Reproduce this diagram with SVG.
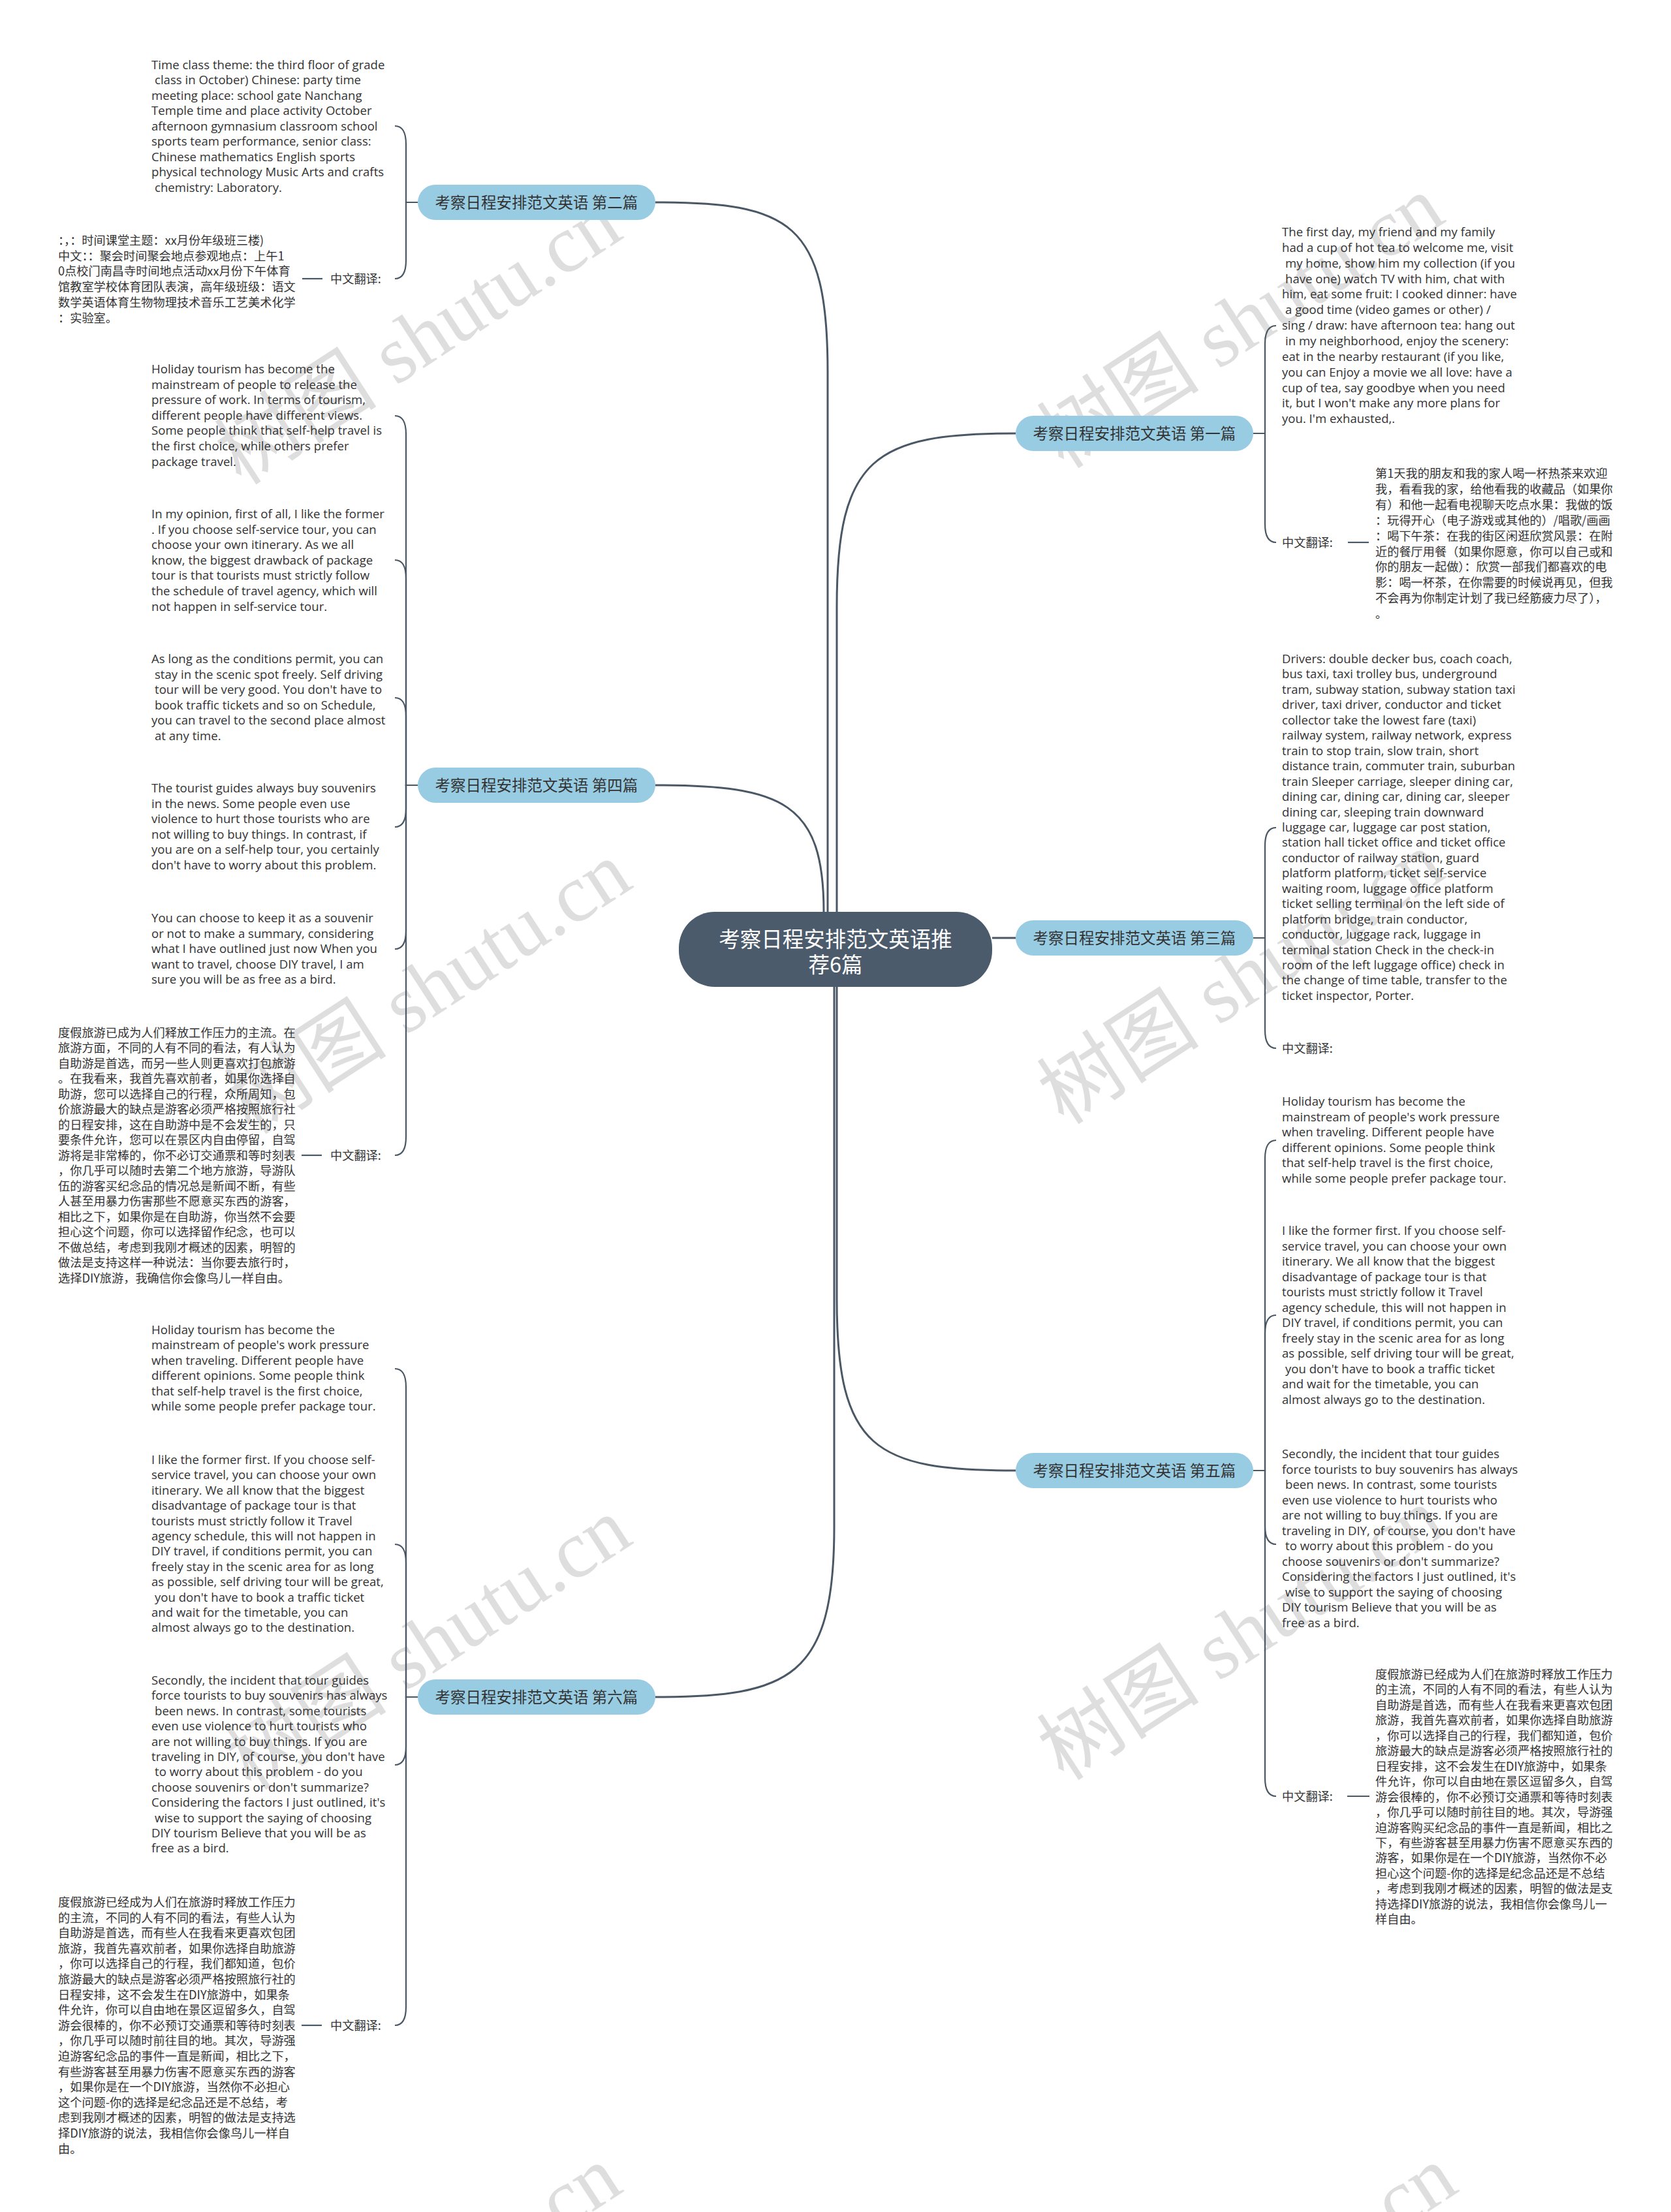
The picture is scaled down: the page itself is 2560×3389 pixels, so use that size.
<svg xmlns="http://www.w3.org/2000/svg" width="2560" height="3389" viewBox="0 0 2560 3389">
<style>
.bg{fill:#ffffff}
.wm{font-family:"Liberation Serif","Noto Sans CJK SC",serif;font-size:125px;fill:#d4d4d4;opacity:0.75}
.t{font-family:"Open Sans","Noto Sans CJK SC",sans-serif;font-size:18.6px;fill:#333333}
.c{font-family:"Noto Sans CJK SC",sans-serif;font-size:18.2px;fill:#333333}
.lab{font-family:"Noto Sans CJK SC",sans-serif;font-size:18.2px;fill:#333333}
.ln{fill:none;stroke:#4a5866;stroke-width:2.2}
.main{fill:none;stroke:#4a5866;stroke-width:3}
.l1 rect{fill:#98cce3}
.l1 text{font-family:"Noto Sans CJK SC",sans-serif;font-size:23.5px;fill:#333333;text-anchor:middle}
.root rect{fill:#4b5b6b}
.root text{font-family:"Noto Sans CJK SC",sans-serif;font-size:32.5px;fill:#ffffff;text-anchor:middle}
</style>
<rect class="bg" x="0" y="0" width="2560" height="3389"/>
<g id="watermarks">
<text class="wm" transform="translate(370,745) rotate(-33)">树图 shutu.cn</text>
<text class="wm" transform="translate(1630,720) rotate(-33)">树图 shutu.cn</text>
<text class="wm" transform="translate(385,1740) rotate(-33)">树图 shutu.cn</text>
<text class="wm" transform="translate(1630,1725) rotate(-33)">树图 shutu.cn</text>
<text class="wm" transform="translate(385,2745) rotate(-33)">树图 shutu.cn</text>
<text class="wm" transform="translate(1630,2730) rotate(-33)">树图 shutu.cn</text>
<text class="wm" transform="translate(370,3738) rotate(-33)">树图 shutu.cn</text>
<text class="wm" transform="translate(1650,3738) rotate(-33)">树图 shutu.cn</text>
</g>
<g id="connectors">
<path class="main" d="M1004 310 C1210 310 1268 340 1268 570 V1397"/>
<path class="main" d="M1004 1203 C1200 1203 1262 1230 1262 1397"/>
<path class="main" d="M1004 2600 C1210 2600 1278 2570 1278 2340 V1512"/>
<path class="main" d="M1282 1397 V930 C1282 700 1340 664 1556 664"/>
<path class="main" d="M1520 1437 H1556"/>
<path class="main" d="M1282 1512 V1990 C1282 2220 1340 2253 1556 2253"/>
<path class="ln" d="M640 310 H622 V221 Q622 193 605 193"/>
<path class="ln" d="M640 310 H622 V399 Q622 427 605 427"/>
<path class="ln" d="M494 427 H463"/>
<path class="ln" d="M640 1203 H622 V665 Q622 637 605 637"/>
<path class="ln" d="M640 1203 H622 V886 Q622 858 605 858"/>
<path class="ln" d="M640 1203 H622 V1097 Q622 1069 605 1069"/>
<path class="ln" d="M640 1203 H622 V1239 Q622 1267 605 1267"/>
<path class="ln" d="M640 1203 H622 V1426 Q622 1454 605 1454"/>
<path class="ln" d="M640 1203 H622 V1742 Q622 1770 605 1770"/>
<path class="ln" d="M493 1770 H462"/>
<path class="ln" d="M640 2600 H622 V2125 Q622 2097 605 2097"/>
<path class="ln" d="M640 2600 H622 V2394 Q622 2366 605 2366"/>
<path class="ln" d="M640 2600 H622 V2676 Q622 2704 605 2704"/>
<path class="ln" d="M640 2600 H622 V3075 Q622 3103 605 3103"/>
<path class="ln" d="M493 3103 H462"/>
<path class="ln" d="M1920 664 H1938 V527 Q1938 499 1955 499"/>
<path class="ln" d="M1920 664 H1938 V803 Q1938 831 1955 831"/>
<path class="ln" d="M2065 831 H2097"/>
<path class="ln" d="M1920 1437 H1938 V1296 Q1938 1268 1955 1268"/>
<path class="ln" d="M1920 1437 H1938 V1578 Q1938 1606 1955 1606"/>
<path class="ln" d="M1920 2253 H1938 V1775 Q1938 1747 1955 1747"/>
<path class="ln" d="M1920 2253 H1938 V2043 Q1938 2015 1955 2015"/>
<path class="ln" d="M1920 2253 H1938 V2338 Q1938 2366 1955 2366"/>
<path class="ln" d="M1920 2253 H1938 V2724 Q1938 2752 1955 2752"/>
<path class="ln" d="M2064 2752 H2098"/>
</g>
<g id="root" class="root">
<rect x="1040" y="1397" width="480" height="115" rx="55"/>
<text x="1280" y="1451"><tspan x="1280" dy="0">考察日程安排范文英语推</tspan><tspan x="1280" dy="39">荐6篇</tspan></text>
</g>
<g id="n2" class="l1"><rect x="640" y="283" width="364" height="54" rx="27"/><text x="822" y="318.5">考察日程安排范文英语 第二篇</text></g>
<g id="n4" class="l1"><rect x="640" y="1176" width="364" height="54" rx="27"/><text x="822" y="1211.5">考察日程安排范文英语 第四篇</text></g>
<g id="n6" class="l1"><rect x="640" y="2573" width="364" height="54" rx="27"/><text x="822" y="2608.5">考察日程安排范文英语 第六篇</text></g>
<g id="n1" class="l1"><rect x="1556" y="637" width="364" height="54" rx="27"/><text x="1738" y="672.5">考察日程安排范文英语 第一篇</text></g>
<g id="n3" class="l1"><rect x="1556" y="1410" width="364" height="54" rx="27"/><text x="1738" y="1445.5">考察日程安排范文英语 第三篇</text></g>
<g id="n5" class="l1"><rect x="1556" y="2226" width="364" height="54" rx="27"/><text x="1738" y="2261.5">考察日程安排范文英语 第五篇</text></g>

<g id="n2-a"><text class="t" x="232" y="105.5"><tspan x="232" dy="0">Time class theme: the third floor of grade</tspan><tspan x="237" dy="23.5">class in October) Chinese: party time</tspan><tspan x="232" dy="23.5">meeting place: school gate Nanchang</tspan><tspan x="232" dy="23.5">Temple time and place activity October</tspan><tspan x="232" dy="23.5">afternoon gymnasium classroom school</tspan><tspan x="232" dy="23.5">sports team performance, senior class:</tspan><tspan x="232" dy="23.5">Chinese mathematics English sports</tspan><tspan x="232" dy="23.5">physical technology Music Arts and crafts</tspan><tspan x="237" dy="23.5">chemistry: Laboratory.</tspan></text></g>
<g id="n2-b"><text class="lab" x="506" y="434">中文翻译:</text></g>
<g id="n2-b1"><text class="c" x="89" y="375"><tspan x="89" dy="0">：，：时间课堂主题：xx月份年级班三楼)</tspan><tspan x="89" dy="23.7">中文：：聚会时间聚会地点参观地点：上午1</tspan><tspan x="89" dy="23.7">0点校门南昌寺时间地点活动xx月份下午体育</tspan><tspan x="89" dy="23.7">馆教室学校体育团队表演，高年级班级：语文</tspan><tspan x="89" dy="23.7">数学英语体育生物物理技术音乐工艺美术化学</tspan><tspan x="89" dy="23.7">：实验室。</tspan></text></g>

<g id="n4-a"><text class="t" x="232" y="572"><tspan x="232" dy="0">Holiday tourism has become the</tspan><tspan x="232" dy="23.6">mainstream of people to release the</tspan><tspan x="232" dy="23.6">pressure of work. In terms of tourism,</tspan><tspan x="232" dy="23.6">different people have different views.</tspan><tspan x="232" dy="23.6">Some people think that self-help travel is</tspan><tspan x="232" dy="23.6">the first choice, while others prefer</tspan><tspan x="232" dy="23.6">package travel.</tspan></text></g>
<g id="n4-b"><text class="t" x="232" y="794"><tspan x="232" dy="0">In my opinion, first of all, I like the former</tspan><tspan x="232" dy="23.6">. If you choose self-service tour, you can</tspan><tspan x="232" dy="23.6">choose your own itinerary. As we all</tspan><tspan x="232" dy="23.6">know, the biggest drawback of package</tspan><tspan x="232" dy="23.6">tour is that tourists must strictly follow</tspan><tspan x="232" dy="23.6">the schedule of travel agency, which will</tspan><tspan x="232" dy="23.6">not happen in self-service tour.</tspan></text></g>
<g id="n4-c"><text class="t" x="232" y="1016"><tspan x="232" dy="0">As long as the conditions permit, you can</tspan><tspan x="237" dy="23.6">stay in the scenic spot freely. Self driving</tspan><tspan x="237" dy="23.6">tour will be very good. You don't have to</tspan><tspan x="237" dy="23.6">book traffic tickets and so on Schedule,</tspan><tspan x="232" dy="23.6">you can travel to the second place almost</tspan><tspan x="237" dy="23.6">at any time.</tspan></text></g>
<g id="n4-d"><text class="t" x="232" y="1214"><tspan x="232" dy="0">The tourist guides always buy souvenirs</tspan><tspan x="232" dy="23.6">in the news. Some people even use</tspan><tspan x="232" dy="23.6">violence to hurt those tourists who are</tspan><tspan x="232" dy="23.6">not willing to buy things. In contrast, if</tspan><tspan x="232" dy="23.6">you are on a self-help tour, you certainly</tspan><tspan x="232" dy="23.6">don't have to worry about this problem.</tspan></text></g>
<g id="n4-e"><text class="t" x="232" y="1413"><tspan x="232" dy="0">You can choose to keep it as a souvenir</tspan><tspan x="232" dy="23.6">or not to make a summary, considering</tspan><tspan x="232" dy="23.6">what I have outlined just now When you</tspan><tspan x="232" dy="23.6">want to travel, choose DIY travel, I am</tspan><tspan x="232" dy="23.6">sure you will be as free as a bird.</tspan></text></g>
<g id="n4-f"><text class="lab" x="506" y="1777">中文翻译:</text></g>
<g id="n4-f1"><text class="c" x="89" y="1588.7"><tspan x="89" dy="0">度假旅游已成为人们释放工作压力的主流。在</tspan><tspan x="89" dy="23.5">旅游方面，不同的人有不同的看法，有人认为</tspan><tspan x="89" dy="23.5">自助游是首选，而另一些人则更喜欢打包旅游</tspan><tspan x="89" dy="23.5">。在我看来，我首先喜欢前者，如果你选择自</tspan><tspan x="89" dy="23.5">助游，您可以选择自己的行程，众所周知，包</tspan><tspan x="89" dy="23.5">价旅游最大的缺点是游客必须严格按照旅行社</tspan><tspan x="89" dy="23.5">的日程安排，这在自助游中是不会发生的，只</tspan><tspan x="89" dy="23.5">要条件允许，您可以在景区内自由停留，自驾</tspan><tspan x="89" dy="23.5">游将是非常棒的，你不必订交通票和等时刻表</tspan><tspan x="89" dy="23.5">，你几乎可以随时去第二个地方旅游，导游队</tspan><tspan x="89" dy="23.5">伍的游客买纪念品的情况总是新闻不断，有些</tspan><tspan x="89" dy="23.5">人甚至用暴力伤害那些不愿意买东西的游客，</tspan><tspan x="89" dy="23.5">相比之下，如果你是在自助游，你当然不会要</tspan><tspan x="89" dy="23.5">担心这个问题，你可以选择留作纪念，也可以</tspan><tspan x="89" dy="23.5">不做总结，考虑到我刚才概述的因素，明智的</tspan><tspan x="89" dy="23.5">做法是支持这样一种说法：当你要去旅行时，</tspan><tspan x="89" dy="23.5">选择DIY旅游，我确信你会像鸟儿一样自由。</tspan></text></g>

<g id="n6-a"><text class="t" x="232" y="2044"><tspan x="232" dy="0">Holiday tourism has become the</tspan><tspan x="232" dy="23.4">mainstream of people's work pressure</tspan><tspan x="232" dy="23.4">when traveling. Different people have</tspan><tspan x="232" dy="23.4">different opinions. Some people think</tspan><tspan x="232" dy="23.4">that self-help travel is the first choice,</tspan><tspan x="232" dy="23.4">while some people prefer package tour.</tspan></text></g>
<g id="n6-b"><text class="t" x="232" y="2243"><tspan x="232" dy="0">I like the former first. If you choose self-</tspan><tspan x="232" dy="23.4">service travel, you can choose your own</tspan><tspan x="232" dy="23.4">itinerary. We all know that the biggest</tspan><tspan x="232" dy="23.4">disadvantage of package tour is that</tspan><tspan x="232" dy="23.4">tourists must strictly follow it Travel</tspan><tspan x="232" dy="23.4">agency schedule, this will not happen in</tspan><tspan x="232" dy="23.4">DIY travel, if conditions permit, you can</tspan><tspan x="232" dy="23.4">freely stay in the scenic area for as long</tspan><tspan x="232" dy="23.4">as possible, self driving tour will be great,</tspan><tspan x="237" dy="23.4">you don't have to book a traffic ticket</tspan><tspan x="232" dy="23.4">and wait for the timetable, you can</tspan><tspan x="232" dy="23.4">almost always go to the destination.</tspan></text></g>
<g id="n6-c"><text class="t" x="232" y="2581"><tspan x="232" dy="0">Secondly, the incident that tour guides</tspan><tspan x="232" dy="23.4">force tourists to buy souvenirs has always</tspan><tspan x="237" dy="23.4">been news. In contrast, some tourists</tspan><tspan x="232" dy="23.4">even use violence to hurt tourists who</tspan><tspan x="232" dy="23.4">are not willing to buy things. If you are</tspan><tspan x="232" dy="23.4">traveling in DIY, of course, you don't have</tspan><tspan x="237" dy="23.4">to worry about this problem - do you</tspan><tspan x="232" dy="23.4">choose souvenirs or don't summarize?</tspan><tspan x="232" dy="23.4">Considering the factors I just outlined, it's</tspan><tspan x="237" dy="23.4">wise to support the saying of choosing</tspan><tspan x="232" dy="23.4">DIY tourism Believe that you will be as</tspan><tspan x="232" dy="23.4">free as a bird.</tspan></text></g>
<g id="n6-d"><text class="lab" x="506" y="3110">中文翻译:</text></g>
<g id="n6-d1"><text class="c" x="89" y="2921"><tspan x="89" dy="0">度假旅游已经成为人们在旅游时释放工作压力</tspan><tspan x="89" dy="23.6">的主流，不同的人有不同的看法，有些人认为</tspan><tspan x="89" dy="23.6">自助游是首选，而有些人在我看来更喜欢包团</tspan><tspan x="89" dy="23.6">旅游，我首先喜欢前者，如果你选择自助旅游</tspan><tspan x="89" dy="23.6">，你可以选择自己的行程，我们都知道，包价</tspan><tspan x="89" dy="23.6">旅游最大的缺点是游客必须严格按照旅行社的</tspan><tspan x="89" dy="23.6">日程安排，这不会发生在DIY旅游中，如果条</tspan><tspan x="89" dy="23.6">件允许，你可以自由地在景区逗留多久，自驾</tspan><tspan x="89" dy="23.6">游会很棒的，你不必预订交通票和等待时刻表</tspan><tspan x="89" dy="23.6">，你几乎可以随时前往目的地。其次，导游强</tspan><tspan x="89" dy="23.6">迫游客纪念品的事件一直是新闻，相比之下，</tspan><tspan x="89" dy="23.6">有些游客甚至用暴力伤害不愿意买东西的游客</tspan><tspan x="89" dy="23.6">，如果你是在一个DIY旅游，当然你不必担心</tspan><tspan x="89" dy="23.6">这个问题-你的选择是纪念品还是不总结，考</tspan><tspan x="89" dy="23.6">虑到我刚才概述的因素，明智的做法是支持选</tspan><tspan x="89" dy="23.6">择DIY旅游的说法，我相信你会像鸟儿一样自</tspan><tspan x="89" dy="23.6">由。</tspan></text></g>

<g id="n1-a"><text class="t" x="1964" y="362"><tspan x="1964" dy="0">The first day, my friend and my family</tspan><tspan x="1964" dy="23.85">had a cup of hot tea to welcome me, visit</tspan><tspan x="1969" dy="23.85">my home, show him my collection (if you</tspan><tspan x="1969" dy="23.85">have one) watch TV with him, chat with</tspan><tspan x="1964" dy="23.85">him, eat some fruit: I cooked dinner: have</tspan><tspan x="1969" dy="23.85">a good time (video games or other) /</tspan><tspan x="1964" dy="23.85">sing / draw: have afternoon tea: hang out</tspan><tspan x="1969" dy="23.85">in my neighborhood, enjoy the scenery:</tspan><tspan x="1964" dy="23.85">eat in the nearby restaurant (if you like,</tspan><tspan x="1964" dy="23.85">you can Enjoy a movie we all love: have a</tspan><tspan x="1964" dy="23.85">cup of tea, say goodbye when you need</tspan><tspan x="1964" dy="23.85">it, but I won't make any more plans for</tspan><tspan x="1964" dy="23.85">you. I'm exhausted,.</tspan></text></g>
<g id="n1-b"><text class="lab" x="1964" y="838">中文翻译:</text></g>
<g id="n1-b1"><text class="c" x="2107" y="732"><tspan x="2107" dy="0">第1天我的朋友和我的家人喝一杯热茶来欢迎</tspan><tspan x="2107" dy="23.9">我，看看我的家，给他看我的收藏品（如果你</tspan><tspan x="2107" dy="23.9">有）和他一起看电视聊天吃点水果：我做的饭</tspan><tspan x="2107" dy="23.9">：玩得开心（电子游戏或其他的）/唱歌/画画</tspan><tspan x="2107" dy="23.9">：喝下午茶：在我的街区闲逛欣赏风景：在附</tspan><tspan x="2107" dy="23.9">近的餐厅用餐（如果你愿意，你可以自己或和</tspan><tspan x="2107" dy="23.9">你的朋友一起做）：欣赏一部我们都喜欢的电</tspan><tspan x="2107" dy="23.9">影：喝一杯茶，在你需要的时候说再见，但我</tspan><tspan x="2107" dy="23.9">不会再为你制定计划了我已经筋疲力尽了），</tspan><tspan x="2107" dy="23.9">。</tspan></text></g>

<g id="n3-a"><text class="t" x="1964" y="1016"><tspan x="1964" dy="0">Drivers: double decker bus, coach coach,</tspan><tspan x="1964" dy="23.45">bus taxi, taxi trolley bus, underground</tspan><tspan x="1964" dy="23.45">tram, subway station, subway station taxi</tspan><tspan x="1964" dy="23.45">driver, taxi driver, conductor and ticket</tspan><tspan x="1964" dy="23.45">collector take the lowest fare (taxi)</tspan><tspan x="1964" dy="23.45">railway system, railway network, express</tspan><tspan x="1964" dy="23.45">train to stop train, slow train, short</tspan><tspan x="1964" dy="23.45">distance train, commuter train, suburban</tspan><tspan x="1964" dy="23.45">train Sleeper carriage, sleeper dining car,</tspan><tspan x="1964" dy="23.45">dining car, dining car, dining car, sleeper</tspan><tspan x="1964" dy="23.45">dining car, sleeping train downward</tspan><tspan x="1964" dy="23.45">luggage car, luggage car post station,</tspan><tspan x="1964" dy="23.45">station hall ticket office and ticket office</tspan><tspan x="1964" dy="23.45">conductor of railway station, guard</tspan><tspan x="1964" dy="23.45">platform platform, ticket self-service</tspan><tspan x="1964" dy="23.45">waiting room, luggage office platform</tspan><tspan x="1964" dy="23.45">ticket selling terminal on the left side of</tspan><tspan x="1964" dy="23.45">platform bridge, train conductor,</tspan><tspan x="1964" dy="23.45">conductor, luggage rack, luggage in</tspan><tspan x="1964" dy="23.45">terminal station Check in the check-in</tspan><tspan x="1964" dy="23.45">room of the left luggage office) check in</tspan><tspan x="1964" dy="23.45">the change of time table, transfer to the</tspan><tspan x="1964" dy="23.45">ticket inspector, Porter.</tspan></text></g>
<g id="n3-b"><text class="lab" x="1964" y="1613">中文翻译:</text></g>

<g id="n5-a"><text class="t" x="1964" y="1694"><tspan x="1964" dy="0">Holiday tourism has become the</tspan><tspan x="1964" dy="23.6">mainstream of people's work pressure</tspan><tspan x="1964" dy="23.6">when traveling. Different people have</tspan><tspan x="1964" dy="23.6">different opinions. Some people think</tspan><tspan x="1964" dy="23.6">that self-help travel is the first choice,</tspan><tspan x="1964" dy="23.6">while some people prefer package tour.</tspan></text></g>
<g id="n5-b"><text class="t" x="1964" y="1892"><tspan x="1964" dy="0">I like the former first. If you choose self-</tspan><tspan x="1964" dy="23.5">service travel, you can choose your own</tspan><tspan x="1964" dy="23.5">itinerary. We all know that the biggest</tspan><tspan x="1964" dy="23.5">disadvantage of package tour is that</tspan><tspan x="1964" dy="23.5">tourists must strictly follow it Travel</tspan><tspan x="1964" dy="23.5">agency schedule, this will not happen in</tspan><tspan x="1964" dy="23.5">DIY travel, if conditions permit, you can</tspan><tspan x="1964" dy="23.5">freely stay in the scenic area for as long</tspan><tspan x="1964" dy="23.5">as possible, self driving tour will be great,</tspan><tspan x="1969" dy="23.5">you don't have to book a traffic ticket</tspan><tspan x="1964" dy="23.5">and wait for the timetable, you can</tspan><tspan x="1964" dy="23.5">almost always go to the destination.</tspan></text></g>
<g id="n5-c"><text class="t" x="1964" y="2234"><tspan x="1964" dy="0">Secondly, the incident that tour guides</tspan><tspan x="1964" dy="23.5">force tourists to buy souvenirs has always</tspan><tspan x="1969" dy="23.5">been news. In contrast, some tourists</tspan><tspan x="1964" dy="23.5">even use violence to hurt tourists who</tspan><tspan x="1964" dy="23.5">are not willing to buy things. If you are</tspan><tspan x="1964" dy="23.5">traveling in DIY, of course, you don't have</tspan><tspan x="1969" dy="23.5">to worry about this problem - do you</tspan><tspan x="1964" dy="23.5">choose souvenirs or don't summarize?</tspan><tspan x="1964" dy="23.5">Considering the factors I just outlined, it's</tspan><tspan x="1969" dy="23.5">wise to support the saying of choosing</tspan><tspan x="1964" dy="23.5">DIY tourism Believe that you will be as</tspan><tspan x="1964" dy="23.5">free as a bird.</tspan></text></g>
<g id="n5-d"><text class="lab" x="1964" y="2759">中文翻译:</text></g>
<g id="n5-d1"><text class="c" x="2107" y="2572"><tspan x="2107" dy="0">度假旅游已经成为人们在旅游时释放工作压力</tspan><tspan x="2107" dy="23.45">的主流，不同的人有不同的看法，有些人认为</tspan><tspan x="2107" dy="23.45">自助游是首选，而有些人在我看来更喜欢包团</tspan><tspan x="2107" dy="23.45">旅游，我首先喜欢前者，如果你选择自助旅游</tspan><tspan x="2107" dy="23.45">，你可以选择自己的行程，我们都知道，包价</tspan><tspan x="2107" dy="23.45">旅游最大的缺点是游客必须严格按照旅行社的</tspan><tspan x="2107" dy="23.45">日程安排，这不会发生在DIY旅游中，如果条</tspan><tspan x="2107" dy="23.45">件允许，你可以自由地在景区逗留多久，自驾</tspan><tspan x="2107" dy="23.45">游会很棒的，你不必预订交通票和等待时刻表</tspan><tspan x="2107" dy="23.45">，你几乎可以随时前往目的地。其次，导游强</tspan><tspan x="2107" dy="23.45">迫游客购买纪念品的事件一直是新闻，相比之</tspan><tspan x="2107" dy="23.45">下，有些游客甚至用暴力伤害不愿意买东西的</tspan><tspan x="2107" dy="23.45">游客，如果你是在一个DIY旅游，当然你不必</tspan><tspan x="2107" dy="23.45">担心这个问题-你的选择是纪念品还是不总结</tspan><tspan x="2107" dy="23.45">，考虑到我刚才概述的因素，明智的做法是支</tspan><tspan x="2107" dy="23.45">持选择DIY旅游的说法，我相信你会像鸟儿一</tspan><tspan x="2107" dy="23.45">样自由。</tspan></text></g>
</svg>
